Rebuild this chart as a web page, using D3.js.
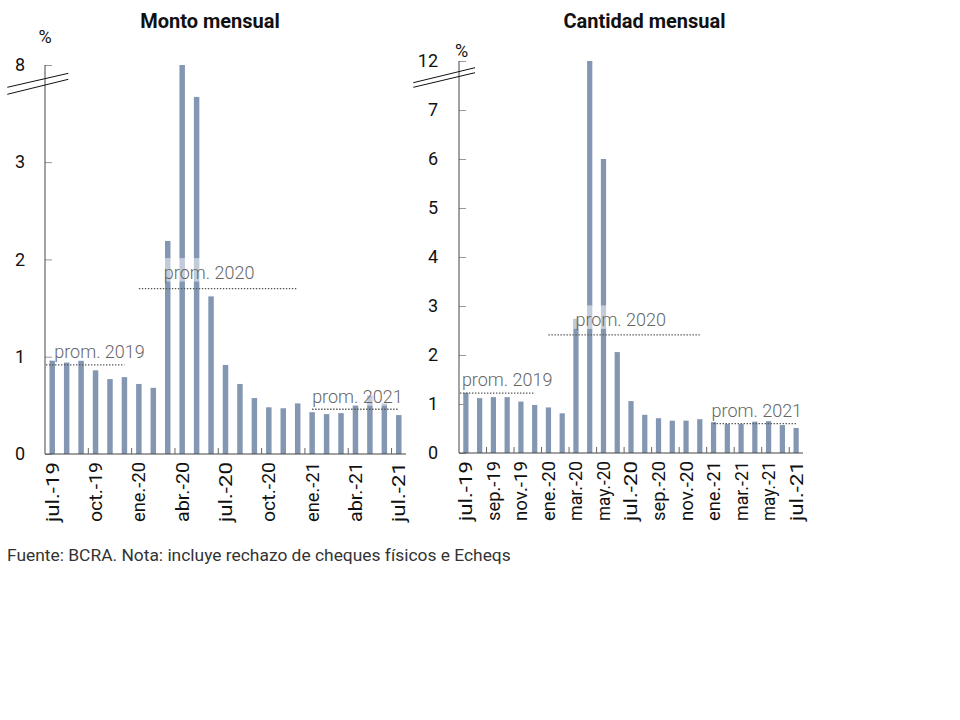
<!DOCTYPE html>
<html><head><meta charset="utf-8">
<script src="https://cdn.jsdelivr.net/npm/d3@7"></script>
<style>body{margin:0;background:#fff;} svg text{font-family:Roboto,"Noto Sans",sans-serif;}</style>
</head><body>
<svg id="c" width="960" height="720"></svg>
<script>
const months = ["jul.-19","ago.-19","sep.-19","oct.-19","nov.-19","dic.-19","ene.-20","feb.-20","mar.-20","abr.-20","may.-20","jun.-20","jul.-20","ago.-20","sep.-20","oct.-20","nov.-20","dic.-20","ene.-21","feb.-21","mar.-21","abr.-21","may.-21","jun.-21","jul.-21"];
const montoValues = [0.96,0.94,0.96,0.86,0.77,0.79,0.72,0.68,2.19,8.0,3.67,1.62,0.915,0.72,0.575,0.48,0.47,0.52,0.43,0.41,0.42,0.50,0.60,0.52,0.40];
const cantidadValues = [1.23,1.12,1.14,1.14,1.05,0.98,0.93,0.81,2.74,12.0,6.0,2.06,1.06,0.78,0.71,0.66,0.66,0.69,0.63,0.59,0.59,0.64,0.65,0.57,0.51];
const montoTicks = [0,1,2,3,8];
const cantidadTicks = [0,1,2,3,4,5,6,7,12];
const averageLabels = ["prom. 2019","prom. 2020","prom. 2021"];
const averageFirst = ["jul.-19","ene.-20","ene.-21"];
const averageLast = ["dic.-19","dic.-20","jul.-21"];
const montoAverages = [0.915,1.70,0.46];
const cantidadAverages = [1.22,2.41,0.60];
const titles = ["Monto mensual","Cantidad mensual"];
const footer = "Fuente: BCRA. Nota: incluye rechazo de cheques físicos e Echeqs";

const svg = d3.select("#c");
const barColor = "#8497b2";

function panel(cfg){
  const g = svg.append("g");
  const x = d3.scaleBand().domain(months).range(cfg.xr).paddingInner(0.62).paddingOuter(0.31);
  const y = d3.scaleLinear().domain(cfg.yd).range(cfg.yr);
  const base = cfg.yr[0];
  const step = x.step(), bw = x.bandwidth();

  g.selectAll("rect.bar").data(cfg.values).join("rect")
    .attr("x",(d,i)=>x(months[i])).attr("width",bw)
    .attr("y",d=>y(d)).attr("height",d=>base-y(d))
    .attr("fill",barColor);

  const ya = d3.axisLeft(y).tickValues(cfg.ticks).tickSize(-7).tickPadding(cfg.tickPad).tickFormat(d3.format("d"));
  const yg = g.append("g").attr("transform",`translate(${cfg.xr[0]},0)`).call(ya);
  yg.select(".domain").remove();
  yg.selectAll(".tick line").attr("stroke","#999");
  yg.selectAll(".tick text").attr("font-size",18).attr("fill","#111").style("font-family","Roboto");
  g.append("line").attr("x1",cfg.xr[0]).attr("x2",cfg.xr[0]).attr("y1",y(cfg.ticks[cfg.ticks.length-1])).attr("y2",base).attr("stroke","#444");

  g.append("line").attr("x1",cfg.xr[0]).attr("x2",cfg.xr[1]).attr("y1",base).attr("y2",base).attr("stroke","#444");
  months.forEach((m,i)=>{
    if(i>0 && i%cfg.every===0){
      const bx = x(m)-(step-bw)/2;
      g.append("line").attr("x1",bx).attr("x2",bx).attr("y1",base).attr("y2",base-6).attr("stroke","#666");
    }
    if(i%cfg.every===0){
      const cx = x(m)+bw/2;
      g.append("text").attr("transform",`translate(${cx},${base+8}) rotate(-90)`)
        .attr("text-anchor","end").attr("dy","0.36em").attr("font-size",18).attr("fill","#111")
        .attr("textLength",60).attr("lengthAdjust","spacingAndGlyphs").text(m);
    }
  });

  cfg.avgs.forEach((v,i)=>{
    const i0 = months.indexOf(averageFirst[i]);
    const c0 = x(averageFirst[i])+bw/2;
    const x1 = i0===0 ? cfg.xr[0]+1 : c0;
    const x2 = x(averageLast[i])+bw/2;
    const yy = y(v);
    g.append("line").attr("x1",x1).attr("x2",x2).attr("y1",yy).attr("y2",yy)
      .attr("stroke","#555").attr("stroke-width",1.3).attr("stroke-dasharray","1.4 1.6");
    const tx = c0 + cfg.labelDx[i], ty = yy + cfg.labelDy[i];
    const box = g.append("rect");
    const t = g.append("text").attr("x",tx).attr("y",ty).attr("font-size",18).attr("font-weight",300)
      .attr("fill","#666").text(averageLabels[i]);
    const bb = t.node().getBBox();
    box.attr("x",bb.x-2).attr("y",ty-20.5).attr("width",bb.width+4).attr("height",23.5)
      .attr("fill","#fff").attr("fill-opacity",0.5);
  });

  cfg.breaks.forEach(b=>{
    g.append("line").attr("x1",b[0]).attr("y1",b[1]).attr("x2",b[2]).attr("y2",b[3]).attr("stroke","#111").attr("stroke-width",1);
  });

  svg.append("text").attr("x",cfg.titleX).attr("y",28).attr("text-anchor","middle").attr("font-size",20)
    .attr("font-weight",700).attr("fill","#111").text(cfg.title);
  svg.append("text").attr("x",cfg.pct[0]).attr("y",cfg.pct[1]).attr("text-anchor","middle").attr("font-size",18)
    .attr("fill","#111").text("%");
}

panel({xr:[45,406], yd:[0,3.9,8], yr:[454,454-3.9*97.3,65], values:montoValues, ticks:montoTicks, tickPad:20,
  every:3, avgs:montoAverages, labelDx:[2,25,0], labelDy:[-7,-10,-6.5],
  breaks:[[7.3,87.3,68.3,73.3],[7.3,94.3,68.3,79.3]], title:titles[0], titleX:210, pct:[45,43]});
panel({xr:[459,803], yd:[0,7.8,12], yr:[453,453-7.8*49,61], values:cantidadValues, ticks:cantidadTicks, tickPad:21,
  every:2, avgs:cantidadAverages, labelDx:[-4,27,-2], labelDy:[-7,-9,-7],
  breaks:[[413.3,82.7,475,67.7],[413.3,87.3,475,72.7]], title:titles[1], titleX:644.5, pct:[461.5,57]});

svg.append("text").attr("x",7).attr("y",561).attr("font-size",17.4).attr("fill","#333").text(footer);
</script>
</body></html>
